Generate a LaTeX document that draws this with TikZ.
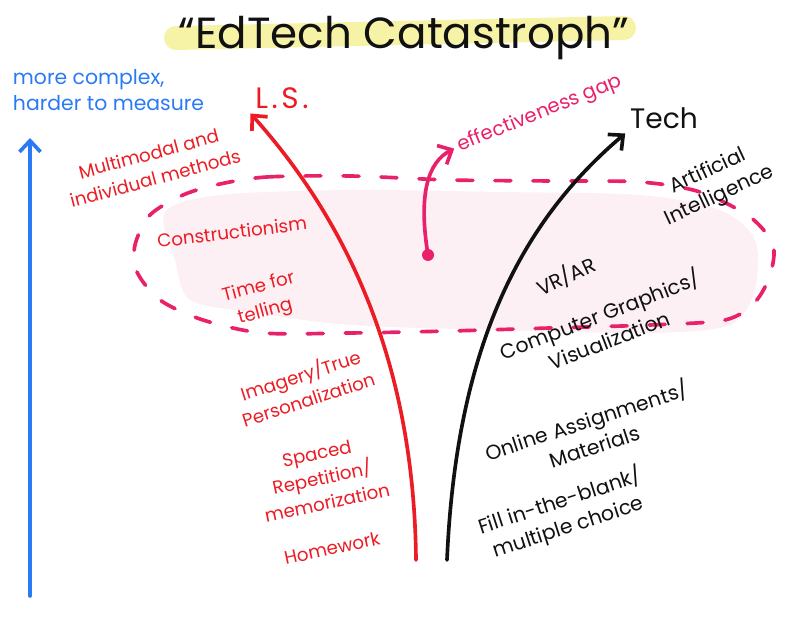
\documentclass[tikz,border=0pt]{standalone}
\usepackage{fontspec}
\setmainfont{Poppins}
\usetikzlibrary{arrows.meta}
\definecolor{Ink}{HTML}{111111}
\definecolor{Crimson}{HTML}{EC1C24}
\definecolor{Sky}{HTML}{2A7AF5}
\definecolor{Rose}{HTML}{E8216A}
\definecolor{Blush}{HTML}{FDF0F4}
\definecolor{Marker}{HTML}{F6F3A6}
\tikzset{
    lslabel/.style={text=Crimson, align=center, font=\fontsize{13}{18}\selectfont},
    techlabel/.style={text=Ink, align=center, font=\fontsize{14.5}{19}\selectfont},
    pen/.style={line width=2.6pt, line cap=round, line join=round},
    penarrow/.style={pen, -{Straight Barb[length=8pt,width=15pt]}},
}

\begin{document}
\begin{tikzpicture}
    \useasboundingbox (0,0) rectangle (20,15.45);

    % Titel mit Textmarker
    \draw[Marker, line width=0.6cm, line cap=round] (4.4,14.5) -- (15.6,14.75);
    \node[font=\fontsize{31}{33}\selectfont, text=Ink] (title) at (10.1,14.5) {“EdTech Catastroph”};

    % Blase um die Effektivitaetsluecke
    \fill[Blush] plot[smooth cycle] coordinates {(4.125,10.15) (5.5,10.575) (8.75,10.7) (12.5,10.65) (16,10.575) (18,10.2) (18.875,9.45) (18.875,8.2) (18.25,7.325) (16.25,7.125) (12.5,7.2) (8.75,7.325) (6.25,7.65) (4.75,7.95) (4.375,8.95)};
    \draw[Rose, pen, dash pattern=on 0.4cm off 0.55cm] plot[smooth cycle] coordinates {(5.5,10.85) (6.675,11.025) (8.75,11.05) (11.25,10.95) (13.75,10.925) (16,10.9) (17.5,10.65) (18.75,10.025) (19.325,9.325) (19.25,8.575) (18.875,7.9) (18.125,7.45) (16.25,7.325) (13.75,7.25) (11.25,7.175) (8.75,7.125) (6.575,7.125) (5.075,7.45) (4,7.95) (3.425,8.65) (3.375,9.325) (3.75,10.075) (4.575,10.575)};

    % Achse links
    \node[text=Sky, align=left, anchor=west, font=\fontsize{14.5}{18}\selectfont] (axis) at (0.2,13.2) {more complex,\\harder to measure};
    \coordinate (axisbase) at (0.75,0.55);
    \coordinate (axistop) at (0.75,12.0);
    \draw[Sky, penarrow] (axisbase) -- (axistop);

    % Lernwissenschaft
    \node[text=Crimson, font=\fontsize{21}{24}\selectfont\addfontfeature{LetterSpace=12}] (ls) at (7.05,13.0) {L.S.};
    \coordinate (lsbase) at (10.4,1.45);
    \draw[Crimson, penarrow] (lsbase) .. controls (10.35,6.5) and (8.6,10.0) .. (ls.south west);

    \node[lslabel, rotate=15] (multi) at (3.8,11.3) {Multimodal and\\individual methods};
    \node[lslabel, rotate=7] (construct) at (5.8,9.65) {Constructionism};
    \node[lslabel, rotate=15] (telling) at (6.55,7.95) {Time for\\telling};
    \node[lslabel, rotate=18] (imagery) at (7.6,5.8) {Imagery/True\\Personalization};
    \node[lslabel, rotate=12] (spaced) at (8.05,3.5) {Spaced\\Repetition/\\memorization};
    \node[lslabel, rotate=12] (homework) at (8.3,1.75) {Homework};

    % Technik
    \node[text=Ink, font=\fontsize{20}{22}\selectfont] (tech) at (16.6,12.5) {Tech};
    \coordinate (techbase) at (11.175,1.45);
    \draw[Ink, penarrow] (techbase) .. controls (11.4,6.6) and (12.9,9.8) .. (tech.south west);

    \node[techlabel, rotate=25] (ai) at (17.85,10.85) {Artificial\\Intelligence};
    \node[techlabel, rotate=25] (vrar) at (14.15,8.55) {VR/AR};
    \node[techlabel, rotate=21] (graphics) at (15.1,7.3) {Computer Graphics/\\Visualization};
    \node[techlabel, rotate=18] (online) at (14.75,4.65) {Online Assignments/\\Materials};
    \node[techlabel, rotate=18] (fillin) at (14.1,2.6) {Fill in-the-blank/\\multiple choice};

    % Luecke
    \node[text=Rose, rotate=22, font=\fontsize{14}{16}\selectfont] (gap) at (13.5,12.6) {effectiveness gap};
    \fill[Rose] (10.7,9.075) circle (0.15) coordinate (gapdot);
    \draw[Rose, penarrow] (gapdot) .. controls (10.45,10.6) and (10.7,11.4) .. (gap.west);
\end{tikzpicture}
\end{document}
